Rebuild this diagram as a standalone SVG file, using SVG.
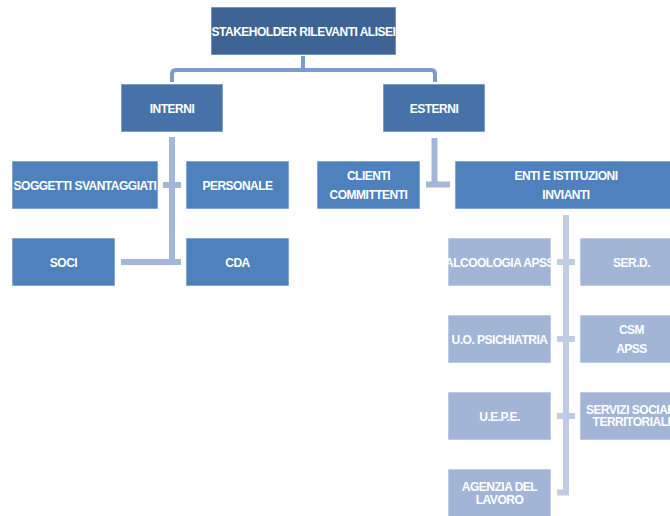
<svg xmlns="http://www.w3.org/2000/svg" width="670" height="516" viewBox="0 0 670 516">
<style>
  .b rect { stroke: #ffffff; stroke-opacity: 0.6; stroke-width: 1; }
  .l0 rect { fill: #3E6496; }
  .l1 rect { fill: #4672A9; }
  .l2 rect { fill: #4F81BD; }
  .l3 rect { fill: #A2B5D6; }
  text { font-family: "Liberation Sans", Arial, sans-serif; font-weight: bold; font-size: 12px; fill: #ffffff; text-anchor: middle; letter-spacing: -0.5px; }
  .c1 { fill: none; stroke: #7B9BCB; stroke-width: 4; stroke-linejoin: round; }
  .c2 { fill: none; stroke: #A5B7D8; stroke-width: 6; }
  .c3 { fill: none; stroke: #BFCCE4; stroke-width: 6; }
</style>
<rect width="670" height="516" fill="#ffffff"/>
<g id="connectors">
  <path class="c1" d="M303,56 V70 M172,82 V74 Q172,70 176,70 H431 Q435,70 435,74 V82"/>
  <path class="c2" d="M172,137 V262 M163,185 H181 M121,262 H181"/>
  <path class="c2" d="M434.5,138 V184.5 M426,184.5 H450"/>
  <path class="c3" d="M566,215 V492.5 H557 M557,262 H575 M557,339 H575 M557,416 H575"/>
</g>
<g id="n-root" class="b l0"><rect x="211" y="7" width="185" height="48"/><text x="303.5" y="36">STAKEHOLDER RILEVANTI ALISEI</text></g>
<g id="n-interni" class="b l1"><rect x="121" y="84" width="102" height="48"/><text x="172" y="112.5">INTERNI</text></g>
<g id="n-esterni" class="b l1"><rect x="383" y="84" width="102" height="48"/><text x="434" y="112.5">ESTERNI</text></g>
<g id="n-soggetti" class="b l2"><rect x="12" y="161" width="146" height="48"/><text x="85" y="189.5">SOGGETTI SVANTAGGIATI</text></g>
<g id="n-personale" class="b l2"><rect x="186" y="161" width="103" height="48"/><text x="237.5" y="189.5">PERSONALE</text></g>
<g id="n-soci" class="b l2"><rect x="12" y="238" width="103" height="48"/><text x="63.5" y="266.5">SOCI</text></g>
<g id="n-cda" class="b l2"><rect x="186" y="238" width="103" height="48"/><text x="237.5" y="266.5">CDA</text></g>
<g id="n-clienti" class="b l2"><rect x="317" y="161" width="103" height="48"/><text x="368.5" y="180">CLIENTI</text><text x="368.5" y="199">COMMITTENTI</text></g>
<g id="n-enti" class="b l2"><rect x="455" y="161" width="222" height="48"/><text x="566" y="180">ENTI E ISTITUZIONI</text><text x="566" y="199">INVIANTI</text></g>
<g id="n-alcoologia" class="b l3"><rect x="448" y="238" width="103" height="48"/><text x="499.5" y="266.5">ALCOOLOGIA APSS</text></g>
<g id="n-serd" class="b l3"><rect x="580" y="238" width="103" height="48"/><text x="631.5" y="266.5">SER.D.</text></g>
<g id="n-uo" class="b l3"><rect x="448" y="315" width="103" height="48"/><text x="499.5" y="343.5">U.O. PSICHIATRIA</text></g>
<g id="n-csm" class="b l3"><rect x="580" y="315" width="103" height="48"/><text x="631.5" y="333.5">CSM</text><text x="631.5" y="352.5">APSS</text></g>
<g id="n-uepe" class="b l3"><rect x="448" y="392" width="103" height="48"/><text x="499.5" y="420.5">U.E.P.E.</text></g>
<g id="n-servizi" class="b l3"><rect x="580" y="392" width="103" height="48"/><text x="631.5" y="413.5">SERVIZI SOCIALI</text><text x="631.5" y="426">TERRITORIALI</text></g>
<g id="n-agenzia" class="b l3"><rect x="448" y="469" width="103" height="48"/><text x="499.5" y="491">AGENZIA DEL</text><text x="499.5" y="503.5">LAVORO</text></g>
</svg>
